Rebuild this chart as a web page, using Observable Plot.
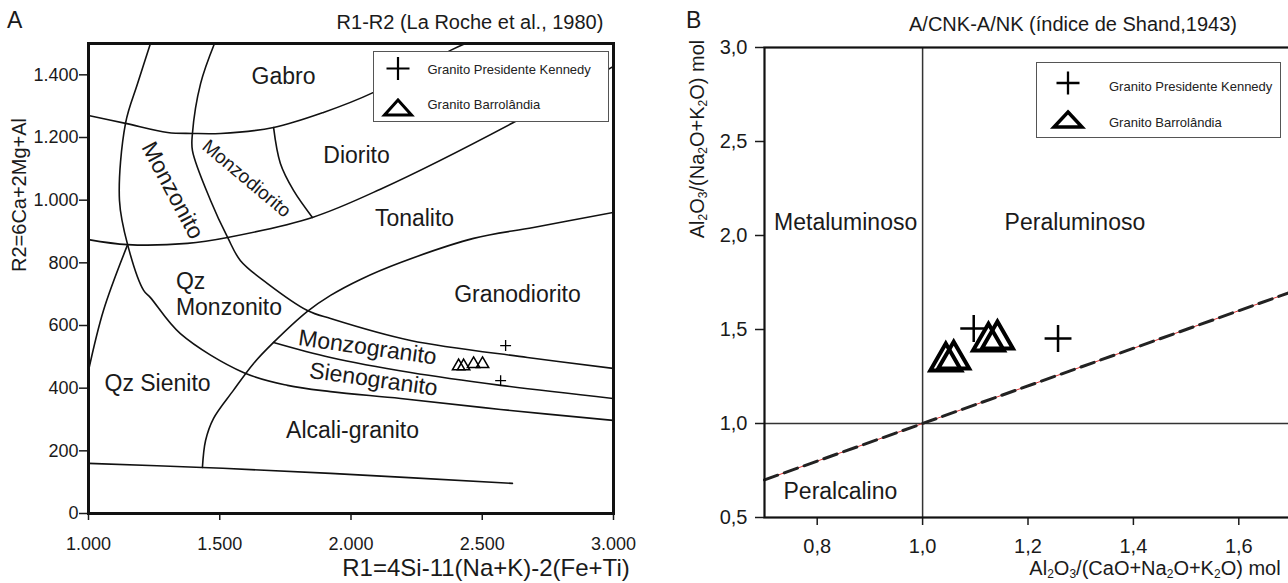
<!DOCTYPE html>
<html><head><meta charset="utf-8">
<script src="https://cdn.jsdelivr.net/npm/d3@7"></script>
<script src="https://cdn.jsdelivr.net/npm/@observablehq/plot@0.6"></script>
<style>
body{margin:0;width:1288px;height:583px;overflow:hidden;position:relative;background:#fff;font-family:"Liberation Sans",Arial,Helvetica,sans-serif;color:#1a1a1a}
.t{position:absolute;white-space:nowrap;line-height:1}
.c{transform:translateX(-50%)}
.r{transform:translate(-50%,-50%) rotate(-90deg)}
sub{font-size:0.6em;vertical-align:-0.28em;line-height:0}
.legend{position:absolute;background:#fff;border:1px solid #555;box-sizing:border-box}
.legend svg{position:absolute;left:0;top:0;overflow:visible}
.legend .lt{position:absolute;font-size:13px;line-height:1;white-space:nowrap;color:#222}
</style></head><body>
<div id="pa" style="position:absolute;left:0;top:0;width:640px;height:583px"></div>
<div id="pb" style="position:absolute;left:640px;top:0;width:661px;height:583px"></div>

<div class="t" style="left:7px;top:9px;font-size:23px">A</div>
<div class="t" style="left:686px;top:9px;font-size:23px">B</div>
<div class="t c" style="left:470px;top:12.4px;font-size:20px">R1-R2 (La Roche et al., 1980)</div>
<div class="t c" style="left:1073px;top:14.4px;font-size:20px">A/CNK-A/NK (índice de Shand,1943)</div>
<div class="t c" style="left:486px;top:556px;font-size:24px">R1=4Si-11(Na+K)-2(Fe+Ti)</div>
<div class="t r" style="left:19px;top:195px;font-size:20px">R2=6Ca+2Mg+Al</div>
<div class="t r" style="left:697px;top:139px;font-size:20px">Al<sub>2</sub>O<sub>3</sub>/(Na<sub>2</sub>O+K<sub>2</sub>O) mol</div>
<div class="t c" style="left:1155px;top:558px;font-size:20px">Al<sub>2</sub>O<sub>3</sub>/(CaO+Na<sub>2</sub>O+K<sub>2</sub>O) mol</div>

<div class="legend" id="legA" style="left:373px;top:51px;width:236px;height:71px"></div>
<div class="legend" id="legB" style="left:1036px;top:62px;width:245px;height:76px"></div>

<script>
// ---------- Panel A: R1-R2 (La Roche et al., 1980) ----------
const xTicksA = [1000, 1500, 2000, 2500, 3000];
const yTicksA = [0, 200, 400, 600, 800, 1000, 1200, 1400];

// field boundaries [R1, R2]
const gabroBoundary = [[1000,1270],[1141,1245],[1301,1216],[1396,1213],[1503,1213],[1705,1232],[1895,1280],[2086,1344],[2379,1478],[2436,1500]];
const tonalitoUpper = [[1000,874],[1149,858],[1377,862],[1530,881],[1853,945],[2112,1035],[2619,1248],[3000,1427]];
const monzonitoArc = [[1236,1500],[1187,1372],[1141,1245],[1118,999],[1149,858],[1210,712],[1236,689],[1350,574],[1590,450],[1758,409],[1922,389],[2189,367],[2570,332],[3000,297]];
const monzodioritoArc = [[1480,1500],[1427,1372],[1396,1213],[1396,1158],[1465,999],[1530,881],[1579,807],[1682,734],[1834,648],[1922,622],[2227,552],[2672,498],[3000,463]];
const alcaliCurve = [[1434,147],[1446,233],[1476,303],[1552,393],[1629,479],[1705,546],[1834,645],[1922,696],[2036,747],[2189,801],[2467,878],[2695,913],[3000,961]];
const monzoSienoBoundary = [[1705,546],[1922,498],[2227,450],[2570,409],[3000,367]];
const bottomBoundary = [[1000,160],[1434,147],[1922,128],[2615,96]];
const qzSienitoBoundary = [[1000,456],[1057,648],[1149,858]];
const dioritoBoundary = [[1705,1232],[1731,1117],[1781,1031],[1853,945]];
const boundariesA = [gabroBoundary, tonalitoUpper, monzonitoArc, monzodioritoArc, alcaliCurve, monzoSienoBoundary, bottomBoundary, qzSienitoBoundary, dioritoBoundary];

const regionNamesA = ["Gabro","Diorito","Tonalito","Granodiorito","Monzonito","Monzodiorito","Qz\nMonzonito","Qz Sienito","Alcali-granito","Monzogranito","Sienogranito"];
const regionXA = [1743, 2021, 2242, 2634, 1320, 1602, 1333, 1263, 2006, 2063, 2086];
const regionYA = [1395, 1143, 941, 699, 1031, 1069, 702, 415, 265, 530, 428];

// samples
const kennedyR1 = [2589, 2570];
const kennedyR2 = [536, 424];
const barrolandiaR1 = [2410, 2429, 2467, 2501];
const barrolandiaR2 = [470, 470, 477, 477];

// ---------- Panel B: A/CNK - A/NK ----------
const xTicksB = [0.8, 1.0, 1.2, 1.4, 1.6];
const yTicksB = [0.5, 1.0, 1.5, 2.0, 2.5, 3.0];
const shandLineX = [0.7, 1.7];
const shandLineY = [0.7, 1.7];
const regionNamesB = ["Metaluminoso", "Peraluminoso", "Peralcalino"];
const regionXB = [0.854, 1.289, 0.844];
const regionYB = [2.069, 2.069, 0.638];
const kennedyACNK = [1.097, 1.257];
const kennedyANK = [1.505, 1.452];
const barrolandiaACNK = [1.044, 1.059, 1.125, 1.142];
const barrolandiaANK = [1.330, 1.340, 1.436, 1.447];

const legendNames = ["Granito Presidente Kennedy", "Granito Barrolândia"];

// ---------- build ----------
const FONT = "'Liberation Sans', Arial, Helvetica, sans-serif";
const INK = "#111";
const fmtA = d => d === 0 ? "0" : d3.format(",")(d).replace(/,/g, ".");
const fmtB = d => d.toFixed(1).replace(".", ",");

const linesA = boundariesA.flatMap((b, i) => b.map(([x, y]) => ({x, y, id: i})));
const regionA = regionNamesA.map((label, i) => ({label, x: regionXA[i], y: regionYA[i]}));
const labelStyleA = {
  "Monzonito": {rotate: 62},
  "Monzodiorito": {rotate: 40, fontSize: 19},
  "Qz\nMonzonito": {textAnchor: "start", lineHeight: 1.13},
  "Monzogranito": {rotate: 8},
  "Sienogranito": {rotate: 8}
};
const kennedyA = kennedyR1.map((x, i) => ({x, y: kennedyR2[i]}));
const barrA = barrolandiaR1.map((x, i) => ({x, y: barrolandiaR2[i]}));

const plotA = Plot.plot({
  width: 640, height: 583,
  marginLeft: 88, marginRight: 27, marginTop: 43, marginBottom: 70,
  x: {domain: [1000, 3000]},
  y: {domain: [0, 1500]},
  style: {fontFamily: FONT, fontSize: "18px", color: "#1a1a1a", background: "transparent", maxWidth: "none"},
  marks: [
    Plot.line(linesA, {x: "x", y: "y", z: "id", curve: "catmull-rom", stroke: INK, strokeWidth: 1.6, clip: "frame"}),
    ...regionA.map(d => Plot.text([d], {x: "x", y: "y", text: "label", fontSize: 23, fill: "#1a1a1a", ...(labelStyleA[d.label] || {})})),
    Plot.dot(barrA, {x: "x", y: "y", symbol: "triangle", r: 4.6, fill: "none", stroke: "#000", strokeWidth: 1.5}),
    Plot.dot(kennedyA, {x: "x", y: "y", symbol: "plus", r: 3.6, stroke: "#000", strokeWidth: 1.3}),
    Plot.axisX({ticks: xTicksA, tickFormat: fmtA, tickSize: 7, tickPadding: 17, label: null, strokeWidth: 1.5}),
    Plot.axisY({ticks: yTicksA, tickFormat: fmtA, tickSize: 9, tickPadding: 1, label: null, strokeWidth: 1.5}),
    Plot.frame({stroke: INK, strokeWidth: 3})
  ]
});
document.getElementById("pa").append(plotA);

const shand = shandLineX.map((x, i) => ({x, y: shandLineY[i]}));
const regionB = regionNamesB.map((label, i) => ({label, x: regionXB[i], y: regionYB[i]}));
const kennedyB = kennedyACNK.map((x, i) => ({x, y: kennedyANK[i]}));
const barrB = barrolandiaACNK.map((x, i) => ({x, y: barrolandiaANK[i]}));

const plotB = Plot.plot({
  width: 661, height: 583,
  marginLeft: 124, marginRight: 10, marginTop: 47, marginBottom: 66,
  x: {domain: [0.7, 1.7]},
  y: {domain: [0.5, 3.0]},
  style: {fontFamily: FONT, fontSize: "20px", color: "#1a1a1a", background: "transparent", maxWidth: "none"},
  marks: [
    Plot.ruleX([1.0], {stroke: "#333", strokeWidth: 1.5}),
    Plot.ruleY([1.0], {stroke: "#333", strokeWidth: 1.5}),
    Plot.line(shand, {x: "x", y: "y", stroke: "#d33", strokeWidth: 1}),
    Plot.line(shand, {x: "x", y: "y", stroke: "#222", strokeWidth: 3, strokeDasharray: "14,7"}),
    Plot.text(regionB, {x: "x", y: "y", text: "label", fontSize: 23, fill: "#1a1a1a"}),
    Plot.dot(barrB, {x: "x", y: "y", symbol: "triangle", r: 11.5, fill: "none", stroke: "#000", strokeWidth: 4}),
    Plot.dot(kennedyB, {x: "x", y: "y", symbol: "plus", r: 8.7, stroke: "#000", strokeWidth: 2.5}),
    Plot.axisX({ticks: xTicksB, tickFormat: fmtB, tickSize: 8, tickPadding: 13, label: null, strokeWidth: 1.5}),
    Plot.axisY({ticks: yTicksB, tickFormat: fmtB, tickSize: 9, tickPadding: 8, label: null, strokeWidth: 1.5}),
    Plot.frame({stroke: INK, strokeWidth: 2.2})
  ]
});
document.getElementById("pb").append(plotB);

// ---------- legends ----------
function buildLegend(id, g) {
  const el = document.getElementById(id);
  const ns = "http://www.w3.org/2000/svg";
  const svg = document.createElementNS(ns, "svg");
  svg.setAttribute("width", g.w); svg.setAttribute("height", g.h);
  const cx = g.sx, cy = g.cy;
  svg.innerHTML =
    `<path d="M${cx - g.ch},${cy}H${cx + g.ch}M${cx},${cy - g.ch}V${cy + g.ch}" stroke="#000" stroke-width="${g.cw}" fill="none"/>` +
    `<path d="M${cx},${g.ta}L${cx + g.th},${g.tb}L${cx - g.th},${g.tb}Z" stroke="#000" stroke-width="${g.tw}" fill="none"/>`;
  el.append(svg);
  legendNames.forEach((name, i) => {
    const d = document.createElement("div");
    d.className = "lt";
    d.style.left = g.tx + "px";
    d.style.top = g.ty[i] + "px";
    d.textContent = name;
    el.append(d);
  });
}
buildLegend("legA", {w: 236, h: 71, sx: 24, cy: 16.5, ch: 11.5, cw: 2.2, ta: 48, tb: 63, th: 13.5, tw: 3, tx: 53.5, ty: [10.7, 46]});
buildLegend("legB", {w: 245, h: 76, sx: 31, cy: 20, ch: 11.5, cw: 2.3, ta: 49, tb: 64, th: 14, tw: 3.5, tx: 72, ty: [16.7, 53.2]});
</script>
</body></html>
